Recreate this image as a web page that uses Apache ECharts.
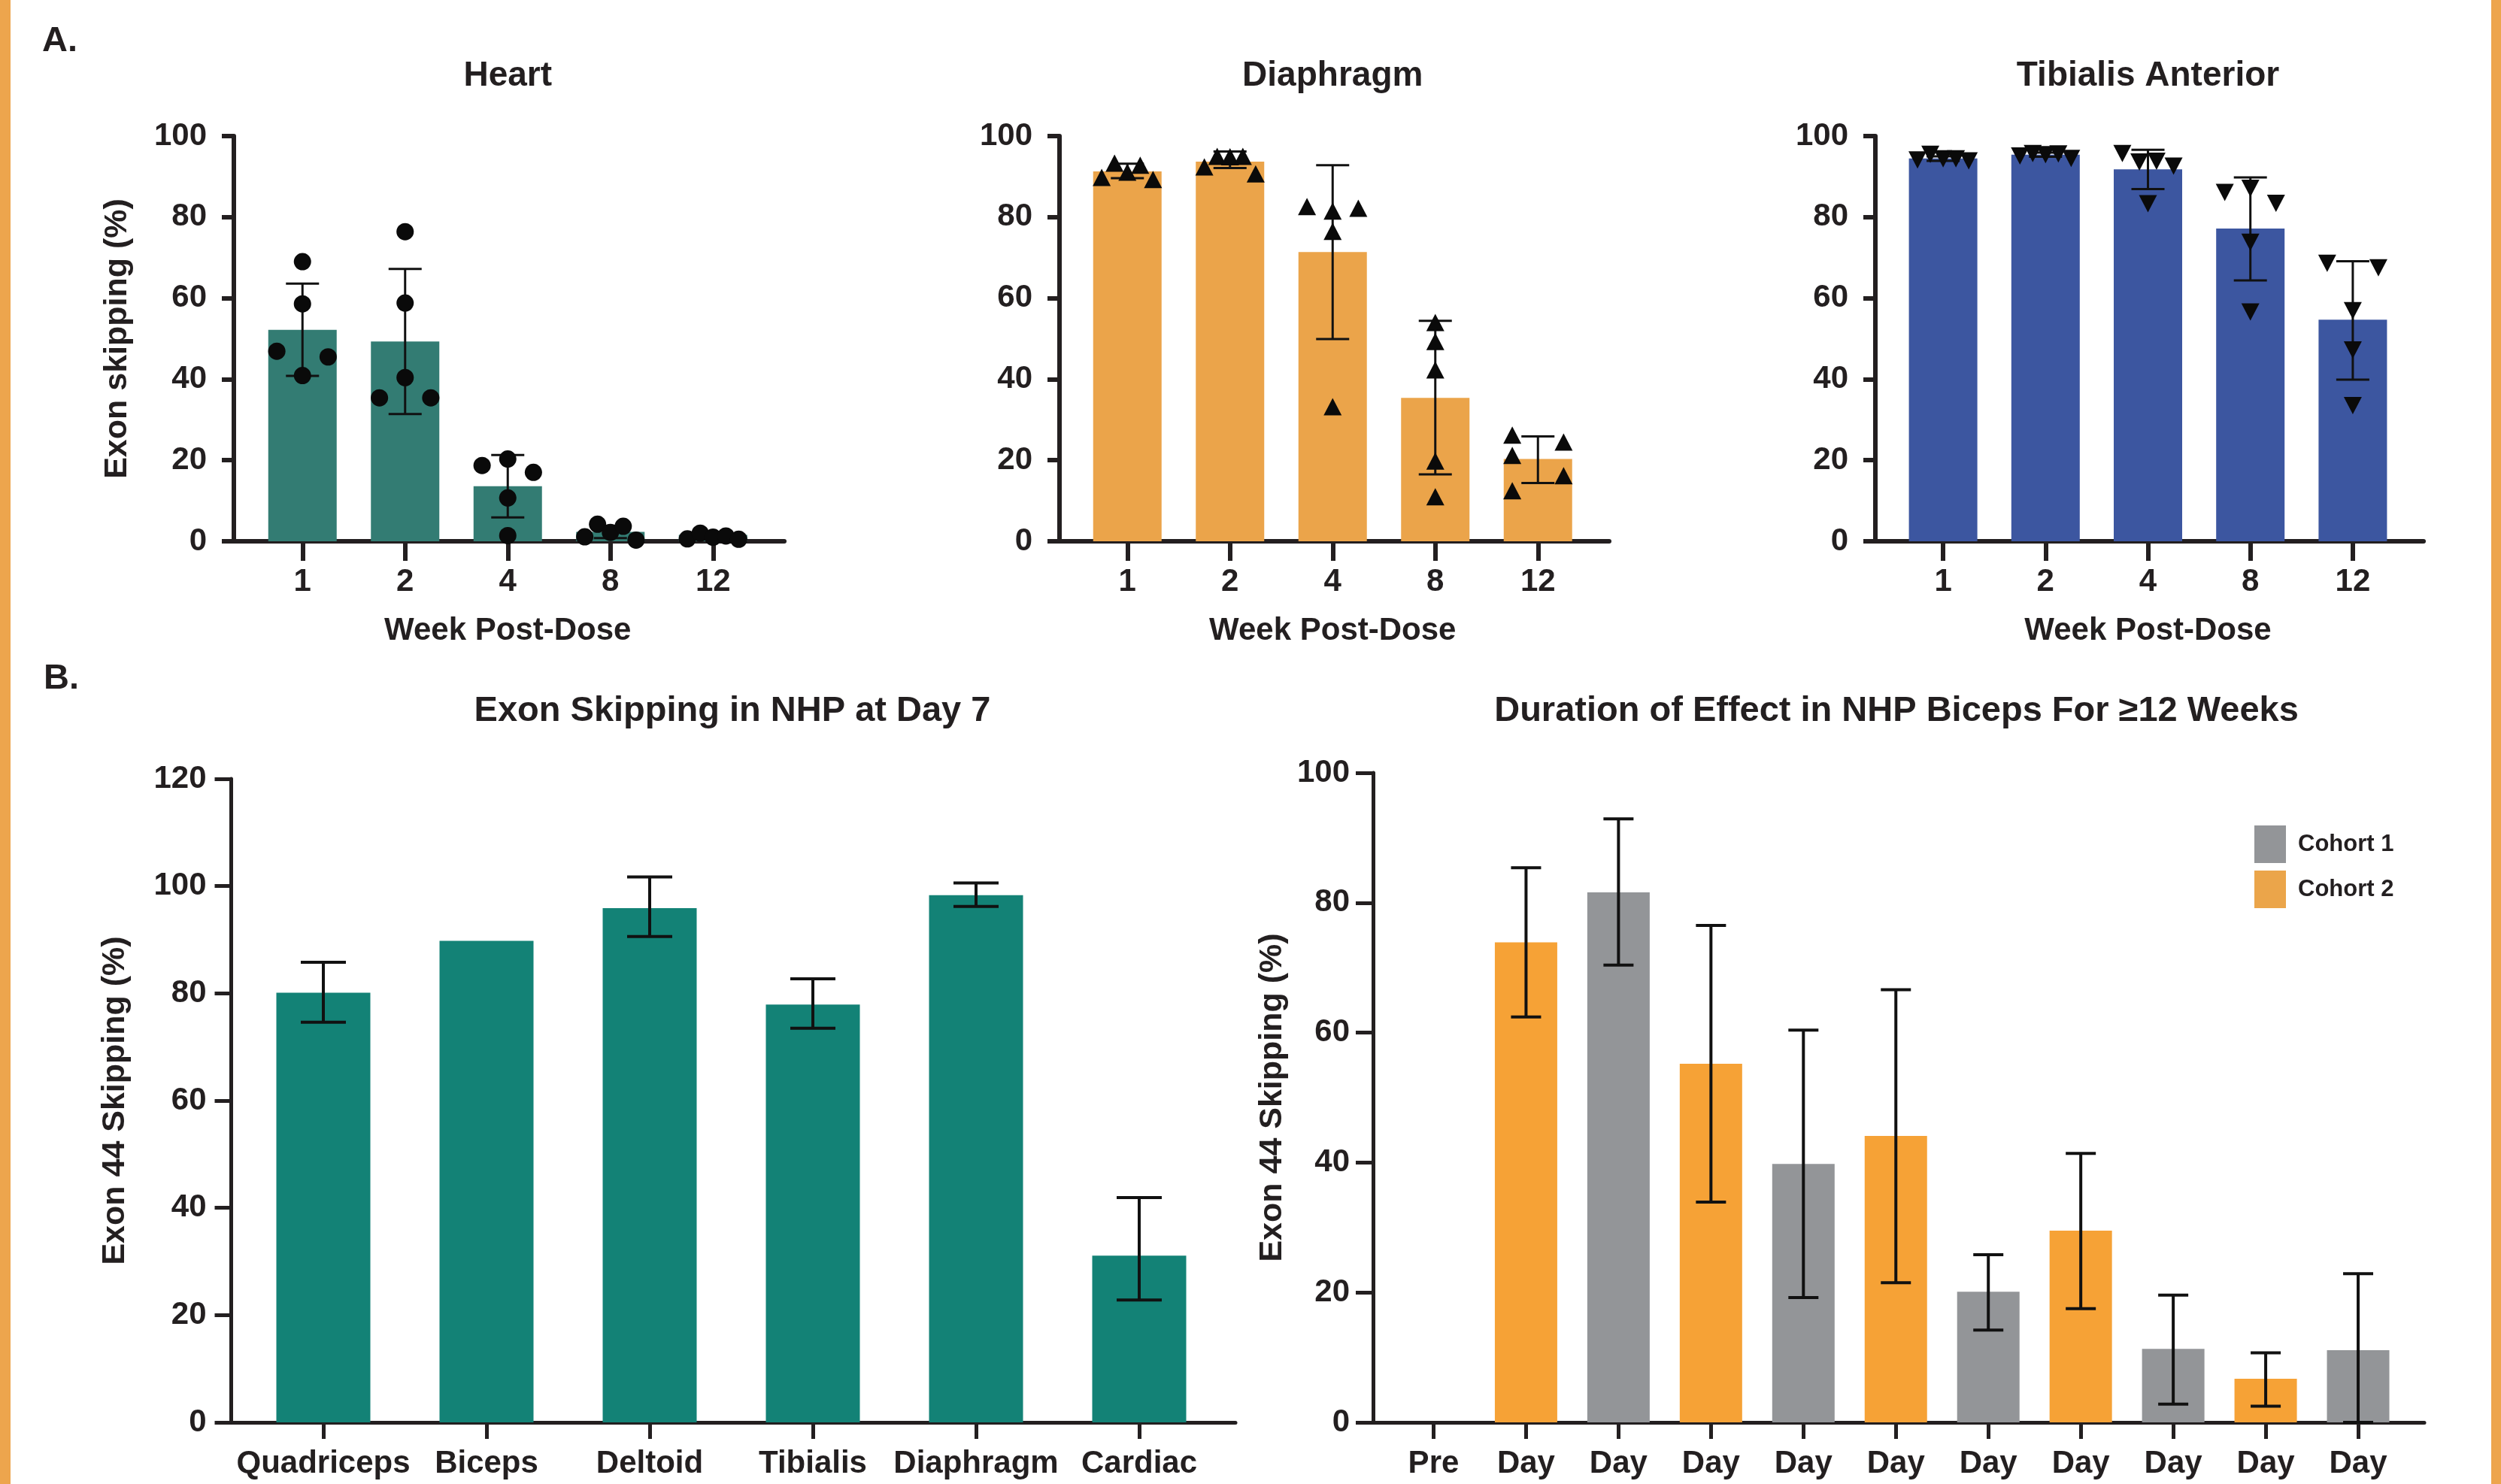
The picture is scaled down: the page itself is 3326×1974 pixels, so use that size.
<!DOCTYPE html>
<html>
<head>
<meta charset="utf-8">
<script src="https://cdn.jsdelivr.net/npm/echarts@6/dist/echarts.min.js"></script>
<style>
  html, body { margin: 0; padding: 0; background: #fff; }
  #chart { width: 3326px; height: 1974px; }
</style>
</head>
<body>
<div id="chart"></div>
<script>
// ---- data ----
const weeks = ['1', '2', '4', '8', '12'];

const heartMean = [52.2, 49.3, 13.6, 2.3, 1.6];
const heartLow  = [40.8, 31.4, 5.9, 0.8, 0.9];
const heartHigh = [63.6, 67.2, 21.3, 3.8, 2.3];
const heartPts = [
  [69.0, 58.6, 46.9, 45.5, 40.9],
  [76.4, 58.8, 40.4, 35.4, 35.4],
  [20.3, 18.7, 17.0, 10.7, 1.4],
  [1.1, 4.2, 2.2, 3.7, 0.3],
  [0.6, 2.0, 1.0, 1.3, 0.5]
];
const heartJit = [
  [0, 0, -2, 2, 0],
  [0, 0, 0, -2, 2],
  [0, -2, 2, 0, 0],
  [-2, -1, 0, 1, 2],
  [-2, -1, 0, 1, 2]
];

const diaMean = [91.3, 93.7, 71.4, 35.4, 20.3];
const diaLow  = [89.6, 92.1, 49.9, 16.5, 14.4];
const diaHigh = [93.2, 96.2, 92.8, 54.4, 25.9];
const diaPts = [
  [89.8, 93.3, 91.1, 92.8, 89.3],
  [92.4, 95.0, 94.9, 95.0, 90.7],
  [82.6, 81.5, 82.2, 76.5, 33.2],
  [54.0, 49.3, 42.3, 19.8, 11.0],
  [26.2, 21.2, 12.5, 24.5, 16.2]
];
const diaJit = [
  [-2, -1, 0, 1, 2],
  [-2, -1, 0, 1, 2],
  [-2, 0, 2, 0, 0],
  [0, 0, 0, 0, 0],
  [-2, -2, -2, 2, 2]
];

const tibMean = [94.5, 95.4, 91.8, 77.2, 54.7];
const tibLow  = [93.9, 94.9, 86.9, 64.4, 39.9];
const tibHigh = [95.0, 95.9, 96.6, 89.8, 69.1];
const tibPts = [
  [94.1, 95.5, 94.4, 94.4, 93.9],
  [95.1, 95.7, 95.4, 95.6, 94.5],
  [95.7, 93.6, 93.8, 92.6, 83.3],
  [86.1, 87.1, 83.4, 73.8, 56.6],
  [68.6, 67.5, 56.9, 47.2, 33.5]
];
const tibJit = [
  [-2, -1, 0, 1, 2],
  [-2, -1, 0, 1, 2],
  [-2, -0.67, 0.67, 2, 0],
  [-2, 0, 2, 0, 0],
  [-2, 2, 0, 0, 0]
];

const muscles = ['Quadriceps', 'Biceps', 'Deltoid', 'Tibialis', 'Diaphragm', 'Cardiac'];
const day7Mean = [80.1, 89.8, 95.9, 77.9, 98.3, 31.1];
const day7Low  = [74.6, null, 90.6, 73.5, 96.2, 22.8];
const day7High = [85.8, null, 101.7, 82.7, 100.6, 41.9];

const timeLabels = ['Pre', 'Day', 'Day', 'Day', 'Day', 'Day', 'Day', 'Day', 'Day', 'Day', 'Day'];
const cohort1 = ['-', '-', 81.6, '-', 39.8, '-', 20.1, '-', 11.3, '-', 11.1];
const cohort2 = ['-', 73.9, '-', 55.2, '-', 44.1, '-', 29.5, '-', 6.7, '-'];
const durLow  = [null, 62.4, 70.4, 33.9, 19.2, 21.5, 14.2, 17.5, 2.8, 2.5, 0];
const durHigh = [null, 85.4, 92.9, 76.5, 60.4, 66.6, 25.8, 41.4, 19.6, 10.7, 22.9];

// ---- styling ----
const ink = '#231F20';
const font = '"Liberation Sans", Arial, Helvetica, sans-serif';
const txt = (size) => ({ fontFamily: font, fontWeight: 'bold', fontSize: size, color: ink });

const grids = [], xAxes = [], yAxes = [], series = [];

function errorBars(xi, yi, low, high, capW, lw) {
  const data = [];
  low.forEach((l, i) => { if (l != null) data.push([i, l, high[i]]); });
  return {
    type: 'custom', xAxisIndex: xi, yAxisIndex: yi, z: 3, silent: true,
    data: data,
    encode: { x: 0, y: [1, 2] },
    renderItem: function (params, api) {
      const lo = api.coord([api.value(0), api.value(1)]);
      const hi = api.coord([api.value(0), api.value(2)]);
      const h = capW / 2;
      const st = { stroke: '#111', lineWidth: lw };
      return {
        type: 'group', children: [
          { type: 'line', shape: { x1: hi[0], y1: hi[1], x2: lo[0], y2: lo[1] }, style: st },
          { type: 'line', shape: { x1: hi[0] - h, y1: hi[1], x2: hi[0] + h, y2: hi[1] }, style: st },
          { type: 'line', shape: { x1: lo[0] - h, y1: lo[1], x2: lo[0] + h, y2: lo[1] }, style: st }
        ]
      };
    }
  };
}

// one panel = an axis grid (y axis + full x axis line) and a data grid (bands, bars, dots)
function panel(p) {
  const ga = grids.length;
  grids.push({ left: p.axisLeft, top: p.top, width: p.axisWidth, height: p.height });
  const gd = grids.length;
  grids.push({ left: p.catLeft, top: p.top, width: p.catWidth, height: p.height });
  const line = { color: ink, width: p.lw };

  xAxes.push({
    type: 'value', gridIndex: ga, min: 0, max: 1,
    axisLine: { show: true, onZero: false, lineStyle: line },
    axisTick: { show: false }, axisLabel: { show: false }, splitLine: { show: false }
  });
  yAxes.push({
    type: 'value', gridIndex: ga, min: 0, max: p.max, interval: 20,
    axisLine: { show: true, lineStyle: line },
    axisTick: { show: true, length: p.yTick, lineStyle: line },
    axisLabel: Object.assign({ margin: p.yMargin }, txt(42)),
    splitLine: { show: false },
    name: p.yName, nameLocation: 'middle', nameGap: p.yNameGap,
    nameTextStyle: txt(43)
  });

  const xc = xAxes.length;
  xAxes.push({
    type: 'category', gridIndex: gd, data: p.cats,
    axisLine: { show: false },
    axisTick: { show: true, alignWithLabel: true, length: p.xTick, lineStyle: line },
    axisLabel: Object.assign({ margin: p.xMargin, interval: 0, formatter: p.labelFmt }, txt(42)),
    name: p.xName, nameLocation: 'middle', nameGap: 98, nameTextStyle: txt(42)
  });
  const xv = xAxes.length;
  xAxes.push({ type: 'value', gridIndex: gd, min: -0.5, max: p.cats.length - 0.5, show: false });
  const yd = yAxes.length;
  yAxes.push({ type: 'value', gridIndex: gd, min: 0, max: p.max, show: false });

  return { xc: xc, xv: xv, yd: yd };
}

function dots(ax, pts, jit, symbol, size, rotate) {
  const data = [];
  pts.forEach((row, i) => row.forEach((v, k) => data.push([i + jit[i][k] * 0.125, v])));
  return {
    type: 'scatter', xAxisIndex: ax.xv, yAxisIndex: ax.yd, z: 4, silent: true,
    data: data, symbol: symbol, symbolSize: size, symbolRotate: rotate || 0,
    itemStyle: { color: '#0A0A0A', opacity: 1 }
  };
}

const topRow = [
  { name: 'Heart', axisLeft: 311, axisWidth: 732, catLeft: 334, catWidth: 682.5,
    mean: heartMean, low: heartLow, high: heartHigh, pts: heartPts, jit: heartJit,
    color: '#337C73', symbol: 'circle', size: 23, yName: 'Exon skipping (%)' },
  { name: 'Diaphragm', axisLeft: 1409, axisWidth: 731, catLeft: 1431, catWidth: 682.5,
    mean: diaMean, low: diaLow, high: diaHigh, pts: diaPts, jit: diaJit,
    color: '#EBA44A', symbol: 'triangle', size: [24, 23] },
  { name: 'Tibialis Anterior', axisLeft: 2494, axisWidth: 729, catLeft: 2516, catWidth: 681,
    mean: tibMean, low: tibLow, high: tibHigh, pts: tibPts, jit: tibJit,
    color: '#3C56A0', symbol: 'triangle', size: [24, 23], rotate: 180 }
];

const titles = [];
topRow.forEach(function (t) {
  const ax = panel({
    axisLeft: t.axisLeft, axisWidth: t.axisWidth, catLeft: t.catLeft, catWidth: t.catWidth,
    top: 181, height: 539, max: 100, lw: 6, yTick: 16, xTick: 26, yMargin: 36, xMargin: 33,
    yName: t.yName || '', yNameGap: 133, cats: weeks, xName: 'Week Post-Dose'
  });
  series.push({
    type: 'bar', xAxisIndex: ax.xc, yAxisIndex: ax.yd, data: t.mean, barWidth: 91,
    itemStyle: { color: t.color }, z: 2, silent: true
  });
  series.push(errorBars(ax.xc, ax.yd, t.low, t.high, 44, 3));
  series.push(dots(ax, t.pts, t.jit, t.symbol, t.size, t.rotate));
  titles.push({ text: t.name, x: t.catLeft + t.catWidth / 2, y: 101, size: 46 });
});

// B left: Day 7
const axL = panel({
  axisLeft: 307.5, axisWidth: 1335.5, catLeft: 321.5, catWidth: 1302,
  top: 1036, height: 856, max: 120, lw: 5, yTick: 22, xTick: 22, yMargin: 33, xMargin: 34,
  yName: 'Exon 44 Skipping (%)', yNameGap: 133, cats: muscles, xName: ''
});
series.push({
  type: 'bar', xAxisIndex: axL.xc, yAxisIndex: axL.yd, data: day7Mean, barWidth: 125,
  itemStyle: { color: '#138276' }, z: 2, silent: true
});
series.push(errorBars(axL.xc, axL.yd, day7Low, day7High, 60, 4));
titles.push({ text: 'Exon Skipping in NHP at Day 7', x: 974, y: 946, size: 47 });

// B right: duration
const axR = panel({
  axisLeft: 1826, axisWidth: 1398, catLeft: 1845, catWidth: 1352.5,
  top: 1028, height: 864, max: 100, lw: 5, yTick: 23, xTick: 22, yMargin: 31, xMargin: 34,
  yName: 'Exon 44 Skipping (%)', yNameGap: 112,
  cats: timeLabels.map((l, i) => String(i)), labelFmt: (v, i) => timeLabels[i], xName: ''
});
series.push({
  name: 'Cohort 1', type: 'bar', xAxisIndex: axR.xc, yAxisIndex: axR.yd, data: cohort1,
  barWidth: 83, barGap: '-100%', itemStyle: { color: '#939598' }, z: 2, silent: true
});
series.push({
  name: 'Cohort 2', type: 'bar', xAxisIndex: axR.xc, yAxisIndex: axR.yd, data: cohort2,
  barWidth: 83, barGap: '-100%', itemStyle: { color: '#F6A236' }, z: 2, silent: true
});
series.push(errorBars(axR.xc, axR.yd, durLow, durHigh, 40, 4));
titles.push({ text: 'Duration of Effect in NHP Biceps For \u226512 Weeks', x: 2522, y: 946, size: 47 });

const graphics = titles.map(t => ({
  type: 'text', x: t.x, y: t.y, silent: true,
  style: { text: t.text, fill: ink, font: 'bold ' + t.size + 'px ' + font, align: 'center', verticalAlign: 'middle' }
}));
graphics.push(
  { type: 'text', x: 56, y: 55, style: { text: 'A.', fill: ink, font: 'bold 47px ' + font, verticalAlign: 'middle' } },
  { type: 'text', x: 58, y: 903, style: { text: 'B.', fill: ink, font: 'bold 47px ' + font, verticalAlign: 'middle' } },
  { type: 'rect', shape: { x: 0, y: 0, width: 14, height: 1974 }, style: { fill: '#EDA54D' } },
  { type: 'rect', shape: { x: 3313, y: 0, width: 13, height: 1974 }, style: { fill: '#EDA54D' } }
);

const chart = echarts.init(document.getElementById('chart'));
chart.setOption({
  backgroundColor: '#fff',
  animation: false,
  grid: grids,
  xAxis: xAxes,
  yAxis: yAxes,
  series: series,
  legend: {
    orient: 'vertical', left: 2993, top: 1093, itemWidth: 42, itemHeight: 50, itemGap: 10,
    icon: 'rect', selectedMode: false,
    textStyle: Object.assign({ padding: [0, 0, 0, 11] }, txt(31)),
    data: [
      { name: 'Cohort 1', itemStyle: { color: '#939598' } },
      { name: 'Cohort 2', itemStyle: { color: '#EBA54A' } }
    ]
  },
  graphic: graphics
});
</script>
</body>
</html>
